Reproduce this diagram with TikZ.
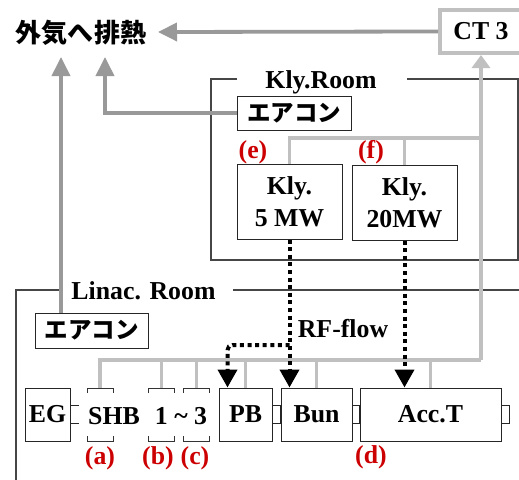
\documentclass[tikz,border=0pt]{standalone}
\usepackage{fontspec}
\setmainfont{Liberation Serif}
\newfontfamily\jpfont{Noto Sans CJK JP}
\usetikzlibrary{arrows.meta}
\definecolor{gdark}{RGB}{153,153,153}
\definecolor{glight}{RGB}{192,192,192}
\definecolor{lblred}{RGB}{204,0,0}
\definecolor{roomline}{RGB}{70,70,70}
\newcommand\mylat{\fontsize{25.8}{32}\selectfont\bfseries}
\newcommand\myjpbig{\fontsize{26}{30}\jpfont\bfseries}
\newcommand\myjp{\fontsize{23.5}{28}\jpfont\bfseries}
\tikzset{
  box/.style={draw=black!85, line width=1pt, inner sep=0pt, font=\mylat, align=center},
  brk/.style={draw=black!80, line width=0.9pt},
  brknode/.style={inner sep=0pt, outer sep=0pt, minimum width=26pt, minimum height=53pt},
  lbl/.style={text=lblred, font=\mylat, inner sep=0pt},
  txt/.style={font=\mylat, inner sep=0pt},
  room/.style={draw=roomline, line width=1.1pt},
  dg/.style={draw=gdark, line width=3.8pt},
  lg/.style={draw=glight, line width=3.8pt},
  dghead/.style={-{Triangle[length=19pt,width=18pt]}},
  lghead/.style={-{Triangle[length=13pt,width=18pt]}},
  rf/.style={draw=black, line width=4pt, dash pattern=on 4pt off 3.6pt},
  rfhead/.style={-{Triangle[length=18pt,width=19pt]}},
  link/.style={draw=black!85, line width=1pt}
}
\begin{document}
\begin{tikzpicture}[x=1pt,y=-1pt]
\useasboundingbox (0,0) rectangle (519,479);

% rooms
\draw[room] (237,79) -- (211,79) -- (211,260) -- (518,260) -- (518,79) -- (407,79);
\draw[room] (59,290) -- (16,290) -- (16,482);
\draw[room] (233,290) -- (521,290);

% texts and nodes
\node[font=\myjpbig, inner sep=0pt] (gaiki) at (81,33) {外気へ排熱};
\node[draw=glight, line width=4pt, minimum width=82pt, minimum height=43pt, font=\mylat, inner sep=0pt] (ct3) at (481,31.5) {CT 3};
\node[txt, anchor=base] (klyt) at (321,88) {Kly.Room};
\node[box, font=\myjp, minimum width=114pt, minimum height=34pt] (ac1) at (294,113) {エアコン};
\node[box, minimum width=105pt, minimum height=75pt] (k5) at (289.5,201.5) {Kly.\\[0pt]5 MW};
\node[box, minimum width=105pt, minimum height=75pt] (k20) at (404.5,202.5) {Kly.\\[0pt]20MW};
\node[lbl] (le) at (253,152) {(e)};
\node[lbl] (lf) at (371,152) {(f)};
\node[txt, anchor=base] (linact) at (143.5,299) {Linac. Room};
\node[box, font=\myjp, minimum width=113pt, minimum height=35pt] (ac2) at (91.5,330.5) {エアコン};
\node[txt] (rft) at (343,329) {RF-flow};

\node[box, minimum width=45pt, minimum height=53pt] (eg) at (47.5,414.5) {EG};
\node[brknode] (shb) at (100,414.5) {};
\node[brknode] (b1) at (161.5,414.5) {};
\node[brknode] (b3) at (196.5,414.5) {};
\node[txt] (shbt) at (114,416) {SHB};
\node[txt] (rng) at (181,416) {1 \textasciitilde{} 3};
\node[box, minimum width=53pt, minimum height=53pt] (pb) at (245.5,414.5) {PB};
\node[box, minimum width=71pt, minimum height=53pt] (bun) at (316.5,414.5) {Bun};
\node[box, minimum width=141pt, minimum height=53pt] (acc) at (430.5,414.5) {Acc.T};

\node[lbl] (la) at (100,458) {(a)};
\node[lbl] (lb) at (158,458) {(b)};
\node[lbl] (lc) at (195,458) {(c)};
\node[lbl] (ld) at (371,457) {(d)};

% brackets
\foreach \n in {shb,b1,b3} {
  \draw[brk] ([yshift=-5pt]\n.north west) -- (\n.north west) -- (\n.north east) -- ([yshift=-5pt]\n.north east);
  \draw[brk] ([yshift=5pt]\n.south west) -- (\n.south west) -- (\n.south east) -- ([yshift=5pt]\n.south east);
}

% small links between boxes
\draw[link] ([yshift=9pt]eg.east) -- ++(8,0);
\draw[link] ([yshift=-9pt]eg.east) -- ++(8,0);
\draw[link] ([yshift=9pt]pb.east) rectangle ([yshift=-9pt]bun.west);
\draw[link] ([yshift=9pt]bun.east) rectangle ([yshift=-9pt]acc.west);
\draw[link] ([yshift=9pt]acc.east) rectangle ++(8,18);

% heat exhaust arrows (dark gray)
\coordinate (tipT) at (158,32);
\coordinate (tipM) at (105,57);
\coordinate (tipL) at (61,57);
\draw[dg, dghead] (ct3.west) -- (tipT);
\draw[dg, dghead] (ac1.west) -| (tipM);
\draw[dg, dghead] (ac2.north -| tipL) -- (tipL);

% cooling water (light gray)
\coordinate (busR) at (481,360);
\coordinate (kbus) at (481,138);
\draw[lg] (shb.north) |- (busR);
\draw[lg, lghead] (busR) -- (ct3.south);
\draw[lg] (k5.north) |- (kbus);
\draw[lg] (k20.north) -- (k20.north |- kbus);
\foreach \n in {b1,b3,pb,bun,acc} \draw[lg] (\n.north) -- (\n.north |- busR);

% RF flow (dotted)
\coordinate (rfy) at (0,345);
\draw[rf, rfhead] (k5.south) -- (k5.south |- bun.north);
\draw[rf, rfhead, rounded corners=5pt] (k5.south |- rfy) -| ([xshift=9pt]pb.north west);
\draw[rf, rfhead] (k20.south) -- (k20.south |- acc.north);
\end{tikzpicture}
\end{document}
